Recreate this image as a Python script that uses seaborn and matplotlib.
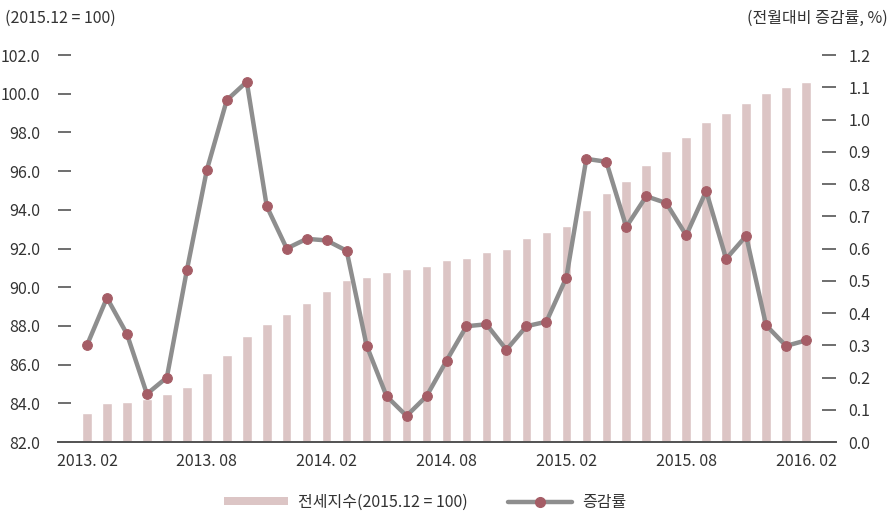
import numpy as np
import pandas as pd
import seaborn as sns
import matplotlib.pyplot as plt
from matplotlib.patches import Patch
from matplotlib.lines import Line2D

# 월별 데이터 (2013.02 ~ 2016.02)
meses = ['2013. 02', '2013. 03', '2013. 04', '2013. 05', '2013. 06', '2013. 07',
         '2013. 08', '2013. 09', '2013. 10', '2013. 11', '2013. 12', '2014. 01',
         '2014. 02', '2014. 03', '2014. 04', '2014. 05', '2014. 06', '2014. 07',
         '2014. 08', '2014. 09', '2014. 10', '2014. 11', '2014. 12', '2015. 01',
         '2015. 02', '2015. 03', '2015. 04', '2015. 05', '2015. 06', '2015. 07',
         '2015. 08', '2015. 09', '2015. 10', '2015. 11', '2015. 12', '2016. 01',
         '2016. 02']
indice = [83.5, 84.0, 84.05, 84.2, 84.5, 84.85, 85.55, 86.5, 87.5, 88.1, 88.6, 89.2,
          89.8, 90.35, 90.55, 90.8, 90.92, 91.1, 91.4, 91.5, 91.83, 92.0, 92.55, 92.87,
          93.18, 94.0, 94.85, 95.5, 96.3, 97.04, 97.78, 98.55, 99.02, 99.54, 100.05,
          100.36, 100.62]
taxa = [0.30, 0.447, 0.335, 0.149, 0.20, 0.532, 0.843, 1.06, 1.117, 0.731, 0.60, 0.63,
        0.625, 0.593, 0.299, 0.142, 0.081, 0.142, 0.252, 0.359, 0.365, 0.286, 0.359,
        0.373, 0.51, 0.878, 0.869, 0.667, 0.762, 0.741, 0.641, 0.778, 0.568, 0.639,
        0.362, 0.298, 0.315]
rotulos_x = ['2013. 02', '2013. 08', '2014. 02', '2014. 08', '2015. 02', '2015. 08', '2016. 02']

df = pd.DataFrame({'mes': meses, 'indice': indice, 'taxa': taxa})
df['pos'] = np.arange(len(df))

sns.set_style('white')
plt.rcParams['font.family'] = ['Noto Sans CJK KR', 'DejaVu Sans']

cor_barra = '#dcc5c5'
cor_linha = '#8e8e8e'
cor_marca = '#a55d66'
cor_texto = '#333333'

fig = plt.figure(figsize=(8.92, 5.15), dpi=100)
ax = fig.add_axes([58 / 892, 1 - 442 / 515, (836 - 58) / 892, (442 - 55) / 515])

sns.barplot(data=df, x='pos', y='indice', color=cor_barra, width=0.48,
            saturation=1, ax=ax)
ax.set_ylim(82, 102)
ax.set_xlim(-1.45, 37.5)
ax.set_yticks(np.arange(82, 102.1, 2))
ax.set_yticklabels([f'{v:.1f}' for v in np.arange(82, 102.1, 2)])

ax2 = ax.twinx()
sns.lineplot(data=df, x='pos', y='taxa', color=cor_linha, linewidth=3.2,
             marker='o', markersize=7, markerfacecolor=cor_marca,
             markeredgecolor=cor_marca, ax=ax2)
ax2.set_ylim(0, 1.2)
ax2.set_yticks(np.arange(0, 1.21, 0.1))
ax2.set_yticklabels([f'{v:.1f}' for v in np.arange(0, 1.21, 0.1)])
ax2.set_xlim(-1.45, 37.5)

pos_x = [meses.index(r) for r in rotulos_x]
ax.set_xticks(pos_x)
ax.set_xticklabels(rotulos_x)

for a in (ax, ax2):
    a.set_xlabel('')
    a.set_ylabel('')
    for lado in ['top', 'left', 'right']:
        a.spines[lado].set_visible(False)
    a.spines['bottom'].set_color('#555555')
    a.spines['bottom'].set_linewidth(1.3)
    a.grid(False)

ax.tick_params(axis='x', length=0, pad=8, labelsize=11.5, labelcolor=cor_texto)
ax.tick_params(axis='y', direction='in', length=9, width=1.2, color='#555555',
               pad=13, labelsize=11.5, labelcolor=cor_texto)
ax2.tick_params(axis='y', direction='in', length=10, width=1.2, color='#555555',
                pad=9, labelsize=11.5, labelcolor=cor_texto)

fig.text(5 / 892, 1 - 18 / 515, '(2015.12 = 100)', ha='left', va='center',
         fontsize=11.5, color=cor_texto)
fig.text(888 / 892, 1 - 18 / 515, '(전월대비 증감률, %)', ha='right', va='center',
         fontsize=11.5, color=cor_texto)

# Legenda na parte inferior
handles = [Patch(facecolor=cor_barra, edgecolor='none'),
           Line2D([0], [0], color=cor_linha, linewidth=3.2, marker='o', markersize=7,
                  markerfacecolor=cor_marca, markeredgecolor=cor_marca)]
fig.legend(handles, ['전세지수(2015.12 = 100)', '증감률'], loc='center',
           bbox_to_anchor=(425 / 892, 1 - 502 / 515), ncol=2, frameon=False,
           fontsize=11.5, handlelength=4.0, handleheight=0.45, columnspacing=2.5,
           handletextpad=0.65, labelcolor=cor_texto)

plt.savefig('out.png', dpi=100)
plt.close()
